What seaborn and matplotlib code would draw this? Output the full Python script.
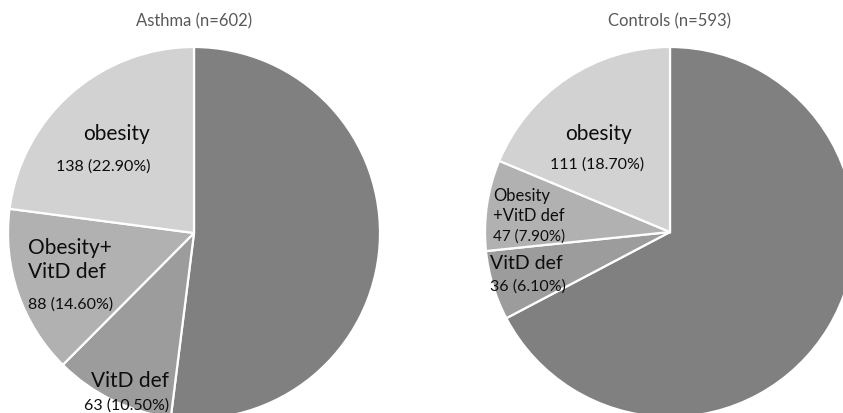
import matplotlib
matplotlib.use("Agg")
import matplotlib.pyplot as plt
import seaborn as sns

sns.set_theme(style="white")
plt.rcParams["font.family"] = ["Lato", "DejaVu Sans"]

# Group sizes: remainder first, then the labelled groups (clockwise from 12 o'clock)
categories = ["Other", "VitD def", "Obesity+VitD def", "obesity"]
asthma_counts = [313, 63, 88, 138]
asthma_pct = ["52.00%", "10.50%", "14.60%", "22.90%"]
control_counts = [399, 36, 47, 111]
control_pct = ["67.30%", "6.10%", "7.90%", "18.70%"]

asthma_names = [None, "VitD def", "Obesity+\nVitD def", "obesity"]
control_names = [None, "VitD def", "Obesity\n+VitD def", "obesity"]

colors = ["#808080", "#9c9c9c", "#b1b1b1", "#d2d2d2"]

W, H = 843, 413
fig = plt.figure(figsize=(W / 100, H / 100), dpi=100)


def pie_axes(cx, cy, r):
    # cx, cy, r in pixels measured from the top-left corner
    return fig.add_axes([(cx - r) / W, (H - cy - r) / H, 2 * r / W, 2 * r / H])


def draw(ax, counts, pct, names, title, layout):
    ax.pie(counts, colors=colors, startangle=90, counterclock=False,
           radius=1.0, wedgeprops=dict(edgecolor="white", linewidth=1.6))
    ax.set_xlim(-1, 1)
    ax.set_ylim(-1, 1)
    ax.set_aspect("equal")
    ax.axis("off")
    ax.text(0, 1.14, title, ha="center", va="center", fontsize=12, color="#595959")
    for i, name in enumerate(names):
        if name is None:
            continue
        (nx, ny), (cx, cy), ha, name_fs, count_fs, ls = layout[i]
        ax.text(nx, ny, name, ha=ha, va="center", fontsize=name_fs,
                color="#0d0d0d", linespacing=ls, multialignment="left")
        ax.text(cx, cy, f"{counts[i]} ({pct[i]})", ha=ha, va="center",
                fontsize=count_fs, color="#0d0d0d")


# label layout: name position, count position (pie radius units), alignment, sizes
ax1 = pie_axes(194, 233, 186)
draw(ax1, asthma_counts, asthma_pct, asthma_names, "Asthma (n=602)", {
    1: ((-0.347, -0.795), (-0.360, -0.925), "center", 15, 11.5, 1.2),
    2: ((-0.892, -0.145), (-0.892, -0.385), "left", 15, 11.5, 1.3),
    3: ((-0.419, 0.530), (-0.489, 0.355), "center", 15, 11.5, 1.2),
})

ax2 = pie_axes(670, 232, 185)
draw(ax2, control_counts, control_pct, control_names, "Controls (n=593)", {
    1: ((-0.973, -0.168), (-0.973, -0.296), "left", 14, 11.5, 1.2),
    2: ((-0.957, 0.142), (-0.957, -0.022), "left", 12, 11, 1.3),
    3: ((-0.389, 0.530), (-0.395, 0.362), "center", 15, 11.5, 1.2),
})

fig.savefig("out.png", dpi=100)
